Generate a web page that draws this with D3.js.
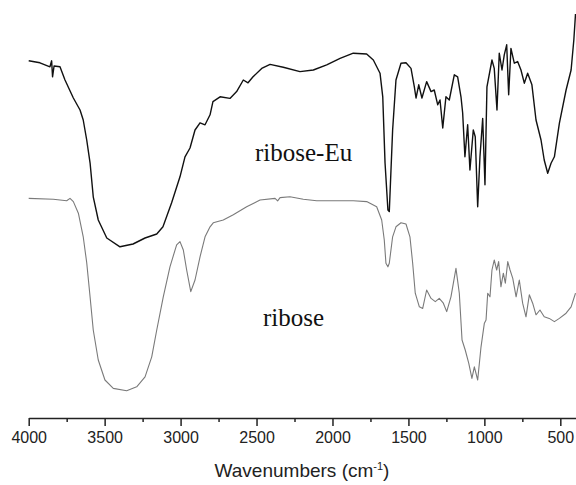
<!DOCTYPE html>
<html>
<head>
<meta charset="utf-8">
<script src="https://cdn.jsdelivr.net/npm/d3@7"></script>
<style>
  body { margin: 0; background: #fff; }
  svg { display: block; }
</style>
</head>
<body>
<svg width="576" height="485"></svg>
<script>
// wavenumber (cm-1) / transmittance (a.u.)
var euWave = [4000,3926,3860,3849,3843,3833,3794,3761,3706,3662,3641,3618,3596,3575,3542,3486,3399,3313,3234,3157,3116,3059,3004,2971,2938,2905,2872,2839,2806,2787,2740,2675,2631,2587,2556,2523,2466,2411,2324,2214,2126,2038,1950,1863,1775,1731,1687,1669,1654,1635,1626,1604,1582,1549,1516,1483,1461,1450,1432,1411,1380,1351,1330,1307,1292,1274,1253,1231,1198,1176,1154,1143,1128,1110,1095,1073,1060,1044,1029,1011,996,983,950,935,917,902,884,869,853,840,825,803,781,759,737,715,687,660,627,606,583,561,539,506,462,429,411,400];
var euT =    [89.8,89.3,88.3,89.8,85.8,88.5,88.3,85,80.5,77.5,75,70,64.3,55.8,50,45.5,43.3,44,45.5,46.5,48.3,54.3,60.8,65.8,68,72.5,74.3,73.8,76.3,79.6,80.8,80.4,82.1,85,84.3,85.8,87.9,88.9,88.2,87.1,87.5,88.8,90.4,91.7,91.5,90,86.7,80.8,64.3,52.5,52.1,72.5,85,89.2,89.3,87.9,83.3,80.5,83.8,80.5,84.6,82.1,82.5,78.8,80,73,80.8,80,86.3,85.8,80.8,76.8,65.8,73.8,62.5,72.5,70.8,53.3,65.8,75.4,58.8,83.3,90,87.9,77.5,91.7,87.5,91.3,93.8,81.3,92.9,89.2,89.6,87.5,84.2,86.7,83.8,75,70,65,61.7,64.2,65.8,74.2,82.5,87.5,95,101.5];

var riboseWave = [4000,3838,3750,3728,3706,3673,3641,3618,3596,3575,3542,3498,3443,3355,3289,3234,3190,3157,3114,3070,3026,3004,2982,2960,2933,2905,2872,2839,2806,2785,2719,2653,2565,2477,2378,2361,2345,2280,2192,2104,1995,1863,1775,1709,1676,1659,1648,1635,1626,1604,1582,1549,1516,1490,1472,1455,1428,1406,1380,1351,1323,1297,1270,1248,1220,1187,1165,1147,1126,1103,1082,1066,1044,1022,1000,989,978,963,950,935,919,906,891,875,862,846,831,813,791,770,748,726,704,682,660,634,606,573,539,506,462,429,400];
var riboseT =    [55.4,55.2,54.8,55.4,54.6,51.7,45.8,39.3,30.8,22.5,15,10,7.9,7.3,8.3,10.8,15.8,22.5,30.8,38.3,43.8,44.6,42.5,37.5,32.1,35,40.8,45.8,48.3,49.3,50,51.3,53.3,55,55.4,54.8,55.6,55.8,55.2,54.8,54.8,54.8,54.6,53.3,50,45,39.2,38.3,39.2,45.8,48.3,49.3,49,45.8,39.2,31.7,28.3,27.9,32.5,30.4,29.6,30.4,29.2,27.1,30.8,37.9,31.7,20,17.5,14.2,10.4,13.3,10,18.3,24.2,25,31.7,30.8,37.5,40,37.5,39.6,33.3,36.7,34.2,39.6,37.5,35.4,30.8,35,29.2,25.8,31.3,29.2,26.3,27.5,25.8,25.4,24.6,25.4,26.7,28.3,31.7];

var majorTicks = [4000,3500,3000,2500,2000,1500,1000,500];
var minorTicks = [3750,3250,2750,2250,1750,1250,750];

var svg = d3.select("svg");

var x = d3.scaleLinear().domain([4000, 400]).range([28.7, 575.5]);
var y = d3.scaleLinear().domain([0, 100]).range([420, 20]);

var line = d3.line()
    .x(function(d) { return x(d[0]); })
    .y(function(d) { return y(d[1]); });

svg.append("path")
    .datum(d3.zip(riboseWave, riboseT))
    .attr("fill", "none")
    .attr("stroke", "#7a7a7a")
    .attr("stroke-width", 1.1)
    .attr("stroke-linejoin", "round")
    .attr("d", line);

svg.append("path")
    .datum(d3.zip(euWave, euT))
    .attr("fill", "none")
    .attr("stroke", "#111")
    .attr("stroke-width", 1.4)
    .attr("stroke-linejoin", "round")
    .attr("d", line);

// bottom axis, major + minor ticks
var axisY = 418;
var gMinor = svg.append("g")
    .attr("transform", "translate(0," + axisY + ")")
    .call(d3.axisBottom(x).tickValues(minorTicks).tickSize(4).tickSizeOuter(0).tickFormat(""));
gMinor.select(".domain").remove();

var gAxis = svg.append("g")
    .attr("transform", "translate(0," + axisY + ")")
    .call(d3.axisBottom(x).tickValues(majorTicks).tickSize(8).tickSizeOuter(0)
      .tickPadding(6).tickFormat(d3.format("d")));

svg.selectAll(".tick line, .domain")
    .attr("stroke", "#222")
    .attr("stroke-width", 1.5);

gAxis.selectAll("text")
    .attr("font-family", "Liberation Sans, Arial, sans-serif")
    .attr("font-size", 16)
    .attr("fill", "#222");

var title = svg.append("text")
    .attr("x", 302)
    .attr("y", 477)
    .attr("text-anchor", "middle")
    .attr("font-family", "Liberation Sans, Arial, sans-serif")
    .attr("font-size", 19)
    .attr("fill", "#222");
title.append("tspan").text("Wavenumbers (cm");
title.append("tspan").attr("dy", -7).attr("font-size", 11).text("-1");
title.append("tspan").attr("dy", 7).text(")");

// series labels
svg.append("text")
    .attr("x", 255).attr("y", 161)
    .attr("font-family", "Liberation Serif, Times New Roman, serif")
    .attr("font-size", 25)
    .attr("fill", "#111")
    .text("ribose-Eu");

svg.append("text")
    .attr("x", 263).attr("y", 326)
    .attr("font-family", "Liberation Serif, Times New Roman, serif")
    .attr("font-size", 25)
    .attr("fill", "#111")
    .text("ribose");
</script>
</body>
</html>
